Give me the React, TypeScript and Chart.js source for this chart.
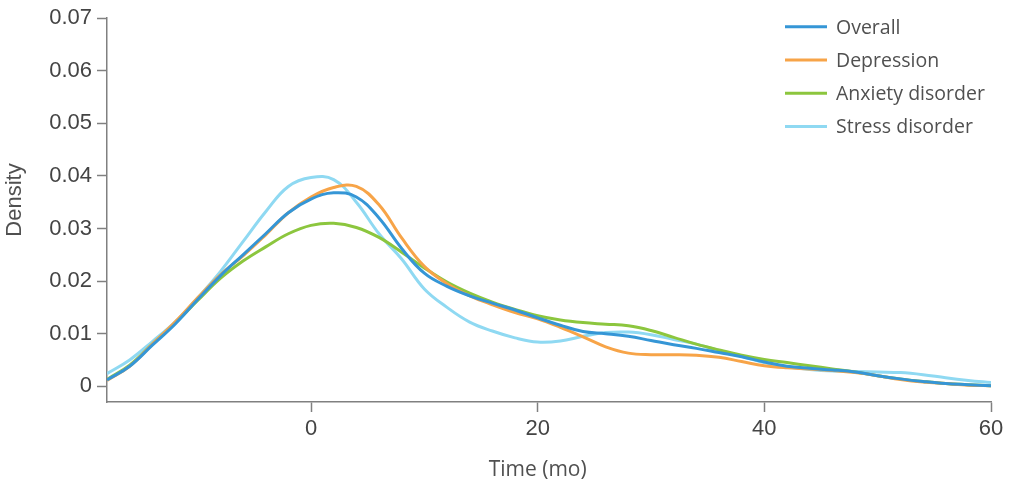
import React, { useEffect, useRef } from "react";
import { Chart, registerables } from "chart.js";

Chart.register(...registerables);

const xValues = [-18, -16, -14, -12, -10, -8, -6, -4, -2, 0, 2, 4, 6, 8, 10, 12, 14, 16, 18, 20, 22, 24, 26, 28, 30, 32, 34, 36, 38, 40, 42, 44, 46, 48, 50, 52, 54, 56, 58, 60];

const overall = [0.0012, 0.0038, 0.0078, 0.0118, 0.0165, 0.021, 0.025, 0.029, 0.033, 0.0356, 0.0368, 0.036, 0.032, 0.0262, 0.0215, 0.019, 0.0172, 0.0158, 0.0145, 0.013, 0.0116, 0.0104, 0.01, 0.0095, 0.0087, 0.0079, 0.0072, 0.0064, 0.0056, 0.0046, 0.0038, 0.0034, 0.0031, 0.0027, 0.002, 0.0014, 0.0009, 0.0005, 0.0003, 0.0001];

const depression = [0.0011, 0.0038, 0.008, 0.0122, 0.0168, 0.0212, 0.0248, 0.0288, 0.033, 0.036, 0.0378, 0.038, 0.0345, 0.0282, 0.0228, 0.0195, 0.0172, 0.0155, 0.014, 0.0128, 0.0112, 0.0094, 0.0075, 0.0063, 0.006, 0.006, 0.0059, 0.0055, 0.0047, 0.0039, 0.0035, 0.0033, 0.003, 0.0026, 0.002, 0.0013, 0.0008, 0.0005, 0.0002, 0.0001];

const anxiety = [0.0013, 0.004, 0.008, 0.012, 0.0163, 0.0205, 0.0238, 0.0265, 0.029, 0.0306, 0.031, 0.0302, 0.0283, 0.0255, 0.0225, 0.0198, 0.0177, 0.016, 0.0146, 0.0134, 0.0126, 0.0121, 0.0118, 0.0115, 0.0106, 0.0093, 0.008, 0.0069, 0.0059, 0.0051, 0.0045, 0.0039, 0.0033, 0.0027, 0.002, 0.0014, 0.0009, 0.0005, 0.0003, 0.0001];

const stress = [0.0024, 0.005, 0.0085, 0.0122, 0.0168, 0.0218, 0.0275, 0.0332, 0.038, 0.0397, 0.0393, 0.035, 0.029, 0.0242, 0.0185, 0.015, 0.0122, 0.0105, 0.0092, 0.0084, 0.0086, 0.0095, 0.0102, 0.0103, 0.0098, 0.0089, 0.008, 0.0068, 0.0057, 0.0045, 0.0037, 0.0032, 0.0029, 0.0028, 0.0027, 0.0026, 0.0022, 0.0016, 0.0011, 0.0007];

const seriesNames = ["Overall", "Depression", "Anxiety disorder", "Stress disorder"];
const seriesColors = ["#3596d6", "#f7a448", "#8cc63e", "#8fd9f2"];
const xTicks = [0, 20, 40, 60];
const yTicks = [0, 0.01, 0.02, 0.03, 0.04, 0.05, 0.06, 0.07];
const xTitle = "Time (mo)";
const yTitle = "Density";

const decorPlugin = {
  id: "decor",
  afterDraw(chart: any) {
    const ctx = chart.ctx;
    ctx.save();
    chart.data.datasets.forEach((ds: any, i: number) => {
      const y = 26.7 + i * 33.3;
      ctx.strokeStyle = ds.borderColor;
      ctx.lineWidth = 3;
      ctx.beginPath();
      ctx.moveTo(785, y);
      ctx.lineTo(827, y);
      ctx.stroke();
      ctx.fillStyle = "#505050";
      ctx.font = '19.5px "Open Sans"';
      ctx.textBaseline = "alphabetic";
      ctx.textAlign = "left";
      ctx.fillText(ds.label, 836, y + 6.8);
    });
    // x title centred under the 20 tick as in the reference
    const xs = chart.scales.x;
    ctx.fillStyle = "#505050";
    ctx.font = '21px "Open Sans"';
    ctx.textAlign = "center";
    ctx.textBaseline = "alphabetic";
    ctx.fillText(xTitle, xs.getPixelForValue(20), 475.5);
    // y title
    ctx.translate(21, 200);
    ctx.rotate(-Math.PI / 2);
    ctx.font = '22px "Liberation Sans", Arial';
    ctx.fillText(yTitle, 0, 0);
    ctx.restore();
  },
};

export default function App() {
  const ref = useRef<HTMLCanvasElement>(null);
  useEffect(() => {
    if (!ref.current) return;
    const all = [overall, depression, anxiety, stress];
    const chart = new Chart(ref.current, {
      type: "line",
      data: {
        datasets: all.map((arr, i) => ({
          label: seriesNames[i],
          data: xValues.map((x, j) => ({ x, y: arr[j] })),
          borderColor: seriesColors[i],
          backgroundColor: seriesColors[i],
          borderWidth: 3,
          pointRadius: 0,
          tension: 0.4,
          fill: false,
        })),
      },
      options: {
        animation: false,
        responsive: false,
        maintainAspectRatio: false,
        layout: { padding: { left: 0, top: 14, right: 45, bottom: 0 } },
        plugins: { legend: { display: false }, tooltip: { enabled: false } },
        scales: {
          x: {
            type: "linear",
            min: -18,
            max: 60,
            afterBuildTicks: (s: any) => {
              s.ticks = xTicks.map((v) => ({ value: v }));
            },
            afterFit: (s: any) => {
              s.height = 81;
            },
            grid: { drawOnChartArea: false, drawTicks: true, tickLength: 10, tickColor: "#808080", tickWidth: 1.5 },
            border: { display: true, color: "#808080", width: 1.5 },
            ticks: {
              color: "#444444",
              font: { family: "Liberation Sans, Arial", size: 22 },
              padding: 4,
              maxRotation: 0,
              autoSkip: false,
            },
          },
          y: {
            type: "linear",
            min: -0.003,
            max: 0.07,
            afterBuildTicks: (s: any) => {
              s.ticks = yTicks.map((v) => ({ value: v }));
            },
            afterFit: (s: any) => {
              s.width = 107;
            },
            grid: { drawOnChartArea: false, drawTicks: true, tickLength: 10, tickColor: "#808080", tickWidth: 1.5 },
            border: { display: true, color: "#808080", width: 1.5 },
            ticks: {
              color: "#444444",
              font: { family: "Liberation Sans, Arial", size: 22 },
              padding: 5,
              autoSkip: false,
              callback: (v: any) => String(Math.round(Number(v) * 100) / 100),
            },
          },
        },
      },
      plugins: [decorPlugin],
    });
    return () => chart.destroy();
  }, []);
  return (
    <div style={{ position: "absolute", left: 0, top: 0, width: 1036, height: 483, background: "#fff" }}>
      <canvas ref={ref} width={1036} height={483} style={{ width: 1036, height: 483, display: "block" }} />
    </div>
  );
}
